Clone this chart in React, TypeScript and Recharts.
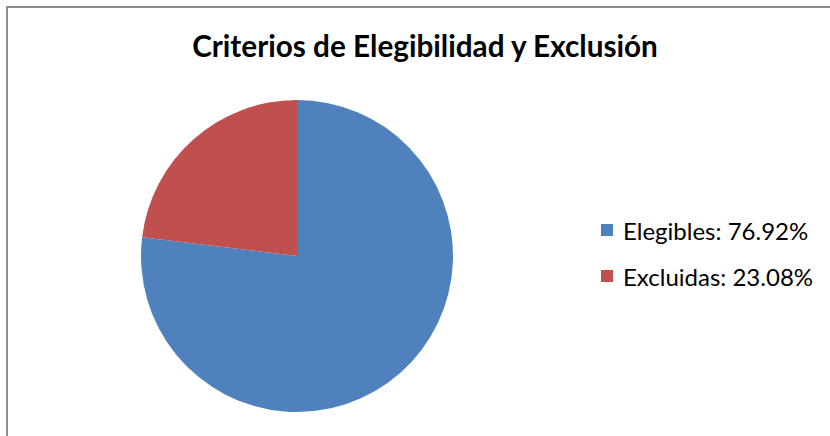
import { PieChart, Pie, Cell, Legend } from 'recharts'

// ─── Data ─────────────────────────────────────────────────────────────────────

const CATEGORIES = ['Elegibles', 'Excluidas']
const VALUES = [76.92, 23.08]
const COLORS = ['#4f81bd', '#c0504d']

const pieData = CATEGORIES.map((name, i) => ({ name, value: VALUES[i] }))

// ─── Legend ───────────────────────────────────────────────────────────────────

const renderLegend = () => (
  <div style={{ fontFamily: 'Lato, "Liberation Sans", sans-serif', fontSize: 24, color: '#000' }}>
    {pieData.map((d, i) => (
      <div key={d.name} style={{ display: 'flex', alignItems: 'center', height: 46 }}>
        <span style={{ width: 12, height: 12, background: COLORS[i], marginRight: 10 }} />
        <span>{d.name}: {d.value.toFixed(2)}%</span>
      </div>
    ))}
  </div>
)

// ─── Component ────────────────────────────────────────────────────────────────

export default function App() {
  return (
    <div style={{ position: 'absolute', left: 0, top: 0, width: 830, height: 436, overflow: 'hidden', background: '#fff' }}>
      {/* chart frame */}
      <div
        style={{
          position: 'absolute',
          left: 6,
          top: 6,
          width: 840,
          height: 450,
          border: '2px solid #8c8c8c',
        }}
      />
      <div
        style={{
          position: 'absolute',
          left: 0,
          top: 28,
          width: 850,
          textAlign: 'center',
          fontFamily: 'Lato, "Liberation Sans", sans-serif',
          fontWeight: 'bold',
          fontSize: 29.7,
          color: '#000',
        }}
      >
        Criterios de Elegibilidad y Exclusión
      </div>
      <div style={{ position: 'absolute', left: 0, top: 0 }}>
        <PieChart width={830} height={436} margin={{ top: 0, right: 0, bottom: 0, left: 0 }}>
          <Pie
            data={pieData}
            dataKey="value"
            cx={297}
            cy={256}
            outerRadius={156}
            startAngle={90}
            endAngle={-270}
            stroke="none"
            isAnimationActive={false}
          >
            {pieData.map((d, i) => (
              <Cell key={d.name} fill={COLORS[i]} />
            ))}
          </Pie>
          <Legend
            content={renderLegend}
            wrapperStyle={{ left: 601, top: 207, width: 229 }}
          />
        </PieChart>
      </div>
    </div>
  )
}
